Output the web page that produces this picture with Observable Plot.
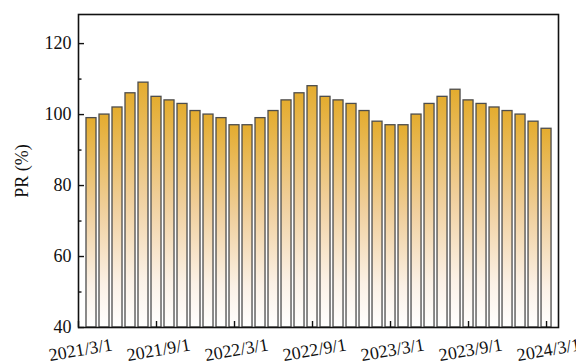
<!DOCTYPE html>
<html>
<head>
<meta charset="utf-8">
<script src="https://cdn.jsdelivr.net/npm/d3@7"></script>
<script src="https://cdn.jsdelivr.net/npm/@observablehq/plot@0.6"></script>
<style>
  html, body { margin: 0; padding: 0; background: #fff; }
  #chart { width: 576px; height: 364px; overflow: hidden; }
</style>
</head>
<body>
<div id="chart"></div>
<script>
// Monthly performance ratio, April 2021 – March 2024
const months = [
  "2021/4/1", "2021/5/1", "2021/6/1", "2021/7/1", "2021/8/1", "2021/9/1",
  "2021/10/1", "2021/11/1", "2021/12/1", "2022/1/1", "2022/2/1", "2022/3/1",
  "2022/4/1", "2022/5/1", "2022/6/1", "2022/7/1", "2022/8/1", "2022/9/1",
  "2022/10/1", "2022/11/1", "2022/12/1", "2023/1/1", "2023/2/1", "2023/3/1",
  "2023/4/1", "2023/5/1", "2023/6/1", "2023/7/1", "2023/8/1", "2023/9/1",
  "2023/10/1", "2023/11/1", "2023/12/1", "2024/1/1", "2024/2/1", "2024/3/1"
];
const prValues = [
  99, 100, 102, 106, 109, 105, 104, 103, 101, 100, 99, 97,
  97, 99, 101, 104, 106, 108, 105, 104, 103, 101, 98, 97,
  97, 100, 103, 105, 107, 104, 103, 102, 101, 100, 98, 96
];
const xTickLabels = ["2021/3/1", "2021/9/1", "2022/3/1", "2022/9/1", "2023/3/1", "2023/9/1", "2024/3/1"];
const yMajorTicks = [40, 60, 80, 100, 120];
const yMinorTicks = [50, 70, 90, 110];

// months counted from March 2021
const monthIndex = (s) => {
  const [y, m] = s.split("/").map(Number);
  return (y - 2021) * 12 + (m - 3);
};

const bars = months.map((m, i) => ({ month: m, idx: monthIndex(m), pr: prValues[i] }));
const xTicks = xTickLabels.map((t) => ({ label: t, idx: monthIndex(t) }));

const W = 576, H = 364;
const mL = 78, mR = 18, mT = 14, mB = 37;
const innerW = W - mL - mR, innerH = H - mT - mB;
const halfBar = 0.385;

// vertical gold-to-white fill shared by all bars
const gradientDefs = () => {
  const ns = "http://www.w3.org/2000/svg";
  const defs = document.createElementNS(ns, "defs");
  const lg = document.createElementNS(ns, "linearGradient");
  lg.setAttribute("id", "barFill");
  lg.setAttribute("x1", "0"); lg.setAttribute("y1", "0");
  lg.setAttribute("x2", "0"); lg.setAttribute("y2", "1");
  [["0", "#E4AC2E"], ["0.45", "#F0CF9C"], ["0.8", "#FBF1E6"], ["1", "#FFFFFF"]].forEach(([o, c]) => {
    const st = document.createElementNS(ns, "stop");
    st.setAttribute("offset", o);
    st.setAttribute("stop-color", c);
    lg.appendChild(st);
  });
  defs.appendChild(lg);
  return defs;
};

const chart = Plot.plot({
  width: W,
  height: H,
  marginLeft: mL,
  marginRight: mR,
  marginTop: mT,
  marginBottom: mB,
  style: { fontFamily: "'Liberation Serif', 'Times New Roman', serif", fontSize: "18px", background: "#fff", color: "#111", overflow: "visible" },
  x: { type: "linear", domain: [0, 36.92], axis: null },
  y: { domain: [40, 128.2], axis: null },
  marks: [
    gradientDefs,
    Plot.rect(bars, {
      x1: (d) => d.idx - halfBar,
      x2: (d) => d.idx + halfBar,
      y1: 40,
      y2: "pr",
      fill: "url(#barFill)",
      stroke: "#4d4d4d",
      strokeWidth: 1.3
    }),
    Plot.frame({ stroke: "#111", strokeWidth: 1.6 }),
    // inward ticks on the left edge
    Plot.tickY(yMajorTicks, { y: (d) => d, insetRight: innerW - 6, stroke: "#111", strokeWidth: 1.4 }),
    Plot.tickY(yMinorTicks, { y: (d) => d, insetRight: innerW - 3.5, stroke: "#111", strokeWidth: 1.4 }),
    // inward ticks on the bottom edge
    Plot.tickX(xTicks, { x: "idx", insetTop: innerH - 6, stroke: "#111", strokeWidth: 1.4 }),
    Plot.axisY({ ticks: yMajorTicks, tickSize: 0, tickPadding: 7, label: null, fontSize: 18 }),
    Plot.text(xTicks, {
      x: "idx",
      text: "label",
      frameAnchor: "bottom",
      dy: 22.5,
      dx: 2,
      rotate: -10,
      textAnchor: "middle",
      lineAnchor: "middle",
      fontSize: 18,
      fill: "#111"
    }),
    Plot.text(["PR (%)"], {
      text: (d) => d,
      frameAnchor: "left",
      dx: -56,
      rotate: -90,
      textAnchor: "middle",
      lineAnchor: "middle",
      fontSize: 18,
      fill: "#111"
    })
  ]
});

document.getElementById("chart").appendChild(chart);
</script>
</body>
</html>
